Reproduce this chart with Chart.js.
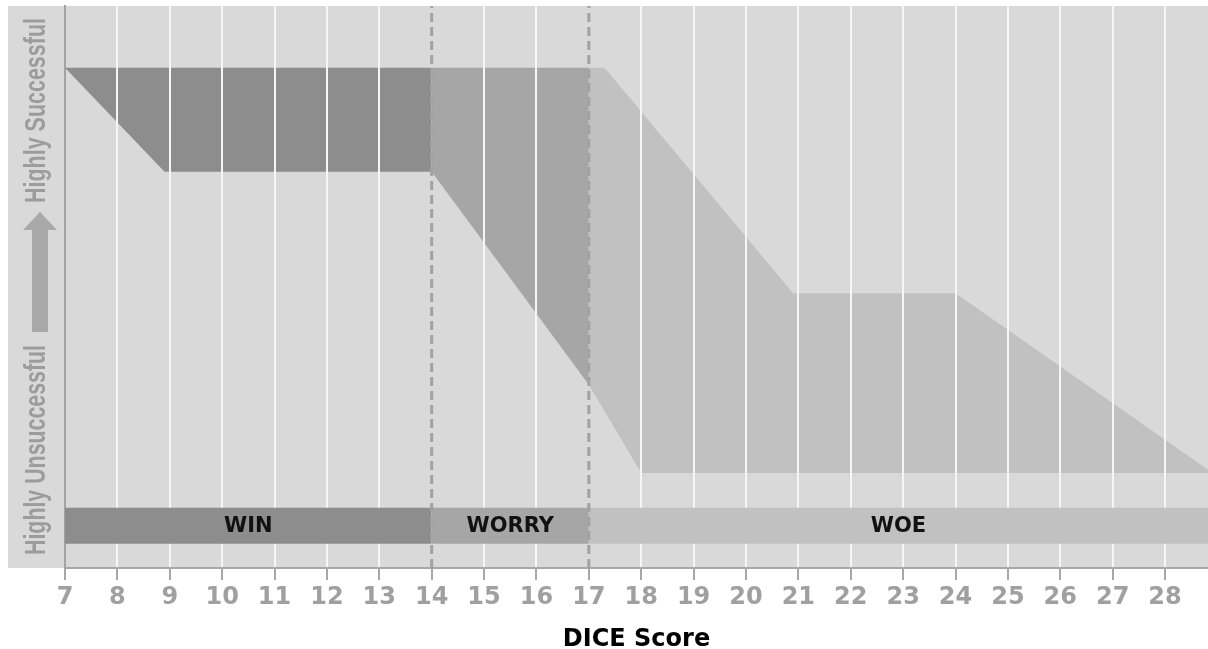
<!DOCTYPE html>
<html>
<head>
<meta charset="utf-8">
<title>DICE Score</title>
<script src="https://cdn.jsdelivr.net/npm/chart.js@4.4.1/dist/chart.umd.min.js"></script>
<style>
  body { margin: 0; background: #ffffff; }
  canvas { display: block; }
</style>
</head>
<body>
<canvas id="dice-chart" width="1208" height="649"></canvas>
<script>
// x ticks (DICE score)
const xTicks = [7, 8, 9, 10, 11, 12, 13, 14, 15, 16, 17, 18, 19, 20, 21, 22, 23, 24, 25, 26, 27, 28];
const xMin = 7;
const xMax = 28.82;

// success ranges (0 = highly unsuccessful, 100 = highly successful)
const winTopX = [7, 14];
const winTopY = [89, 89];
const winBottomX = [7, 8.9, 14];
const winBottomY = [89, 70.5, 70.5];

const worryTopX = [14, 17];
const worryTopY = [89, 89];
const worryBottomX = [14, 17];
const worryBottomY = [70.5, 32.6];

const woeTopX = [17, 17.3, 20.9, 24, 28.82];
const woeTopY = [89, 89, 48.9, 48.9, 17.5];
const woeBottomX = [17, 18, 28.82];
const woeBottomY = [32.6, 16.9, 16.9];

// zone bands along the bottom
const bandLabels = ['WIN', 'WORRY', 'WOE'];
const bandStart = [7, 14, 17];
const bandEnd = [14, 17, 28.82];
const bandTop = 10.7;
const bandBottom = 4.3;

// dashed zone dividers
const dividers = [14, 17];

const zoneColors = ['#8d8d8d', '#a6a6a6', '#c1c1c1'];

function pts(xs, ys) {
  return xs.map(function (x, i) { return { x: x, y: ys[i] }; });
}

function area(data, color, fill, order) {
  return {
    data: data,
    borderWidth: 0,
    pointRadius: 0,
    tension: 0,
    backgroundColor: color,
    fill: fill,
    order: order
  };
}

var datasets = [
  area(pts(winTopX, winTopY), zoneColors[0], false, 5),
  area(pts(winBottomX, winBottomY), zoneColors[0], '-1', 5),
  area(pts(worryTopX, worryTopY), zoneColors[1], false, 5),
  area(pts(worryBottomX, worryBottomY), zoneColors[1], '-1', 5),
  area(pts(woeTopX, woeTopY), zoneColors[2], false, 5),
  area(pts(woeBottomX, woeBottomY), zoneColors[2], '-1', 5)
];

bandLabels.forEach(function (label, i) {
  datasets.push(area(pts([bandStart[i], bandEnd[i]], [bandTop, bandTop]), zoneColors[i], false, 2));
  datasets.push(area(pts([bandStart[i], bandEnd[i]], [bandBottom, bandBottom]), zoneColors[i], '-1', 2));
});

dividers.forEach(function (d) {
  datasets.push({
    data: pts([d, d], [0, 100]),
    borderColor: '#a2a2a2',
    borderWidth: 3,
    borderDash: [9, 5],
    pointRadius: 0,
    fill: false,
    order: 1
  });
});

// grey background, y title with arrow, grid over the areas, band labels
var dicePlugin = {
  id: 'dice',
  beforeDraw: function (chart) {
    var ctx = chart.ctx;
    var a = chart.chartArea;
    ctx.save();
    ctx.fillStyle = '#d9d9d9';
    ctx.fillRect(8, a.top, a.right - 8, a.bottom - a.top);
    ctx.restore();
  },
  afterDatasetDraw: function (chart, args) {
    // white grid lines sit over the areas but under the bands
    if (args.index === 0) {
      chart.scales.x.drawGrid(chart.chartArea);
    }
  },
  afterDatasetsDraw: function (chart) {
    var ctx = chart.ctx;
    var xs = chart.scales.x;
    var ys = chart.scales.y;
    ctx.save();
    ctx.fillStyle = '#111111';
    ctx.font = 'bold 21px "DejaVu Sans", sans-serif';
    ctx.textAlign = 'center';
    ctx.textBaseline = 'middle';
    bandLabels.forEach(function (label, i) {
      var cx = xs.getPixelForValue((bandStart[i] + bandEnd[i]) / 2);
      var cy = ys.getPixelForValue((bandTop + bandBottom) / 2);
      ctx.fillText(label, cx, cy + 1);
    });
    ctx.restore();
  },
  afterDraw: function (chart) {
    var ctx = chart.ctx;
    ctx.save();
    ctx.fillStyle = '#9c9c9c';
    ctx.font = 'bold 29px "Liberation Sans Narrow", "Liberation Sans", sans-serif';
    ctx.textAlign = 'left';
    ctx.textBaseline = 'alphabetic';
    function vtext(t, x, y, len) {
      var w = ctx.measureText(t).width;
      ctx.save();
      ctx.translate(x, y);
      ctx.rotate(-Math.PI / 2);
      ctx.scale(len / w, 1);
      ctx.fillText(t, 0, 0);
      ctx.restore();
    }
    vtext('Highly Unsuccessful', 45, 555, 210);
    vtext('Highly Successful', 45, 203, 185);

    // arrow pointing up
    ctx.fillStyle = '#a9a9a9';
    ctx.fillRect(32, 229, 16, 103);
    ctx.beginPath();
    ctx.moveTo(40, 212);
    ctx.lineTo(57, 230);
    ctx.lineTo(23, 230);
    ctx.closePath();
    ctx.fill();
    ctx.restore();
  }
};

var ctx = document.getElementById('dice-chart');
var diceChart = new Chart(ctx, {
  type: 'line',
  data: { datasets: datasets },
  options: {
    responsive: false,
    animation: false,
    layout: { padding: { top: 6, right: 0, left: 0, bottom: 0 } },
    plugins: {
      legend: { display: false },
      tooltip: { enabled: false }
    },
    scales: {
      x: {
        type: 'linear',
        min: xMin,
        max: xMax,
        afterBuildTicks: function (scale) {
          scale.ticks = xTicks.map(function (v) { return { value: v }; });
        },
        afterFit: function (scale) { scale.height = 81; },
        grid: {
          color: function (c) {
            var v = c.tick && c.tick.value;
            return (v === 7 || dividers.indexOf(v) >= 0) ? 'rgba(0,0,0,0)' : '#f6f6f6';
          },
          lineWidth: 2,
          tickLength: 12,
          tickColor: '#a8a8a8',
          tickWidth: 2
        },
        border: { display: true, color: '#a8a8a8', width: 2 },
        ticks: {
          color: '#a0a0a0',
          font: { family: 'DejaVu Sans', size: 24, weight: 'bold' },
          padding: 3,
          maxRotation: 0,
          autoSkip: false,
          callback: function (v) { return String(v); }
        },
        title: {
          display: true,
          text: 'DICE Score',
          color: '#000000',
          font: { family: 'DejaVu Sans', size: 24, weight: 'bold', lineHeight: 0.76 },
          padding: 0
        }
      },
      y: {
        type: 'linear',
        min: 0,
        max: 100,
        afterFit: function (scale) { scale.width = 65; },
        grid: { display: false },
        border: { display: true, color: '#a3a3a3', width: 2 },
        ticks: { display: false }
      }
    }
  },
  plugins: [dicePlugin]
});
</script>
</body>
</html>
